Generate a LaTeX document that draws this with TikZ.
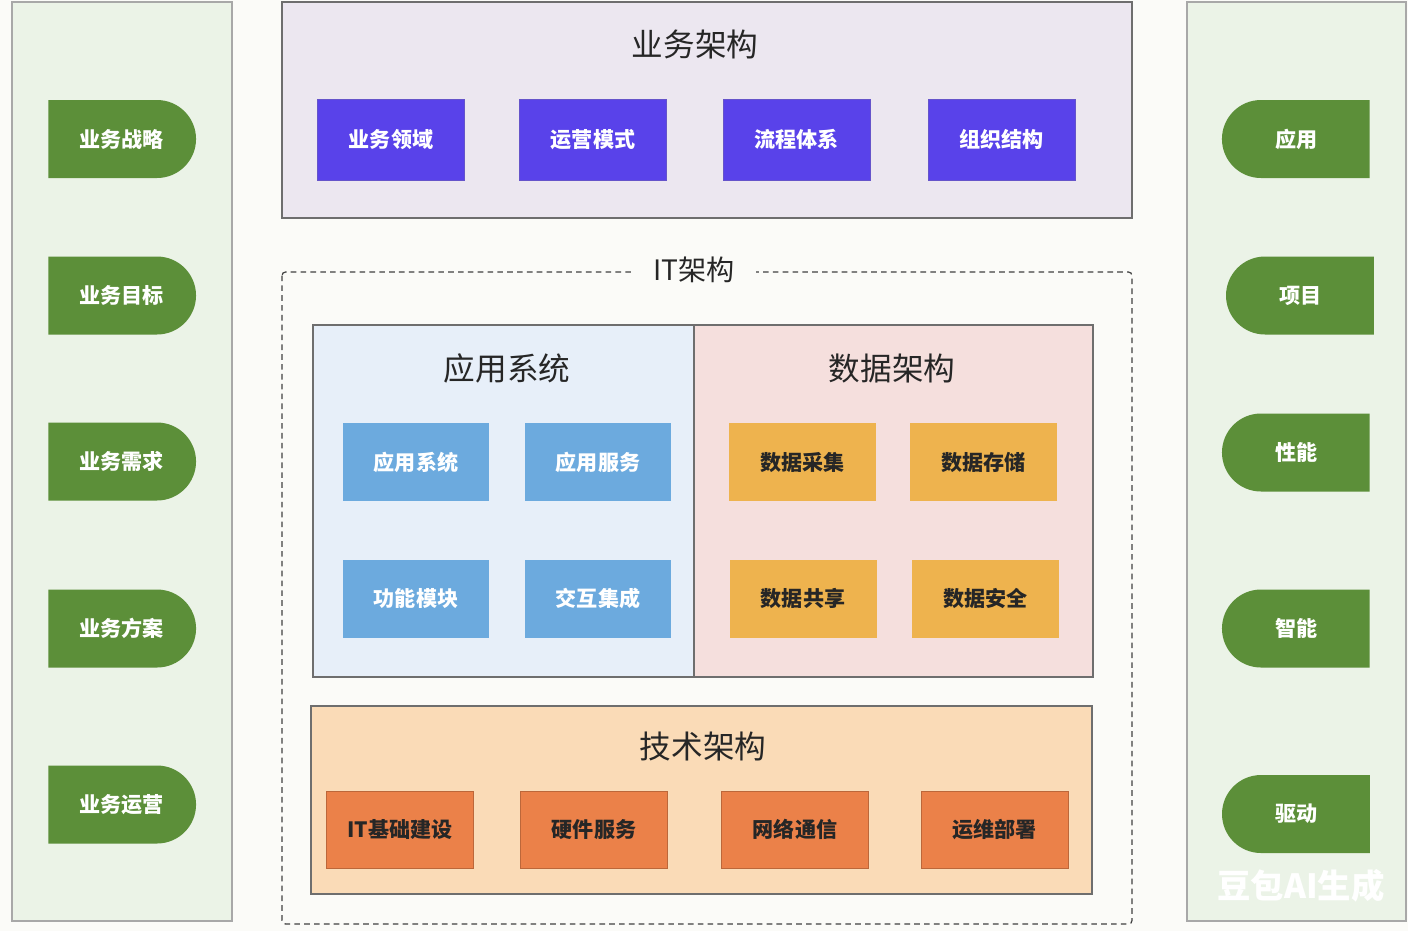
\documentclass[tikz,border=0pt]{standalone}
\usepackage{fontspec}
\setmainfont{Noto Sans CJK SC}
\definecolor{PageBg}{RGB}{251,251,248}
\definecolor{SideGreen}{RGB}{235,243,231}
\definecolor{LeafGreen}{RGB}{92,143,57}
\definecolor{BizLilac}{RGB}{236,231,240}
\definecolor{BizViolet}{RGB}{89,66,234}
\definecolor{AppSky}{RGB}{231,239,249}
\definecolor{AppBlue}{RGB}{108,170,222}
\definecolor{DataRose}{RGB}{245,223,221}
\definecolor{DataAmber}{RGB}{238,179,78}
\definecolor{TechPeach}{RGB}{250,219,183}
\definecolor{TechOrange}{RGB}{235,129,73}
\definecolor{EdgeGray}{RGB}{110,110,110}
\usetikzlibrary{positioning, shapes.misc, backgrounds, calc}

\tikzset{
  sidepanel/.style={draw=EdgeGray!60, fill=SideGreen, line width=0.6pt},
  leafL/.style={rounded rectangle, rounded rectangle west arc=none, fill=LeafGreen,
    text=white, font=\bfseries\fontsize{12}{14}\selectfont, minimum width=3.19cm, minimum height=1.56cm},
  leafR/.style={rounded rectangle, rounded rectangle east arc=none, fill=LeafGreen,
    text=white, font=\bfseries\fontsize{12}{14}\selectfont, minimum width=3.19cm, minimum height=1.56cm},
  panel/.style={draw=EdgeGray, line width=0.7pt},
  ptitle/.style={font=\fontsize{18}{20}\selectfont, text=black!85},
  cell/.style={minimum width=2.94cm, minimum height=1.56cm, inner sep=0pt,
    font=\bfseries\fontsize{12}{14}\selectfont},
  bizcell/.style={cell, fill=BizViolet, draw=BizViolet!70!gray, text=white, minimum height=1.62cm},
  appcell/.style={cell, fill=AppBlue, text=white},
  datacell/.style={cell, fill=DataAmber, text=black!85},
  techcell/.style={cell, fill=TechOrange, draw=TechOrange!80!black, text=black!85, minimum height=1.54cm}
}

\begin{document}
\begin{tikzpicture}[x=0.02cm, y=-0.02cm]
\fill[PageBg] (0,0) rectangle (1408,931);
\useasboundingbox (0,0) rectangle (1408,931);

% side columns
\draw[sidepanel] (12,2) rectangle (232,921);
\draw[sidepanel] (1187,2) rectangle (1406,921);
\node[leafL] (strategy) at (121.5,139) {业务战略};
\node[leafL] (goal) at (121.5,295.5) {业务目标};
\node[leafL] (demand) at (121.5,461.5) {业务需求};
\node[leafL] (plan) at (121.5,628.5) {业务方案};
\node[leafL] (operate) at (121.5,804.5) {业务运营};
\node[leafR] (apply) at (1296.5,139) {应用};
\node[leafR] (project) at (1300.5,295.5) {项目};
\node[leafR] (perform) at (1296.5,452.5) {性能};
\node[leafR] (smart) at (1296.5,628.5) {智能};
\node[leafR] (drive) at (1296.5,814) {驱动};

% business architecture
\draw[panel, fill=BizLilac] (282,2) rectangle (1132,218);
\node[ptitle] (biztitle) at (695,44) {业务架构};
\node[bizcell] (domain) at (391,139.5) {业务领域};
\node[bizcell] (opmode) at (593,139.5) {运营模式};
\node[bizcell] (process) at (796.5,139.5) {流程体系};
\node[bizcell] (org) at (1001.5,139.5) {组织结构};

% IT architecture
\draw[black!75, line width=0.7pt, dash pattern=on 3.2pt off 2.4pt, rounded corners=2pt] (282,272) rectangle (1132,924);
\node[ptitle, fill=PageBg, inner xsep=12pt, font=\fontsize{16}{18}\selectfont] (ittitle) at (694,270) {IT架构};

\draw[panel, fill=AppSky] (313,325) rectangle (694,677);
\draw[panel, fill=DataRose] (694,325) rectangle (1093,677);
\node[ptitle] (apptitle) at (507,368) {应用系统};
\node[appcell] (appsys) at (416,462) {应用系统};
\node[appcell] (appsvc) at (598,462) {应用服务};
\node[appcell] (funcmod) at (416,598.5) {功能模块};
\node[appcell] (interact) at (598,598.5) {交互集成};
\node[ptitle] (datatitle) at (892,368) {数据架构};
\node[datacell] (collect) at (802.5,462) {数据采集};
\node[datacell] (store) at (983.5,462) {数据存储};
\node[datacell] (share) at (803,598.5) {数据共享};
\node[datacell] (secure) at (985.5,598.5) {数据安全};

\draw[panel, fill=TechPeach] (311,706) rectangle (1092,894);
\node[ptitle] (techtitle) at (703,746) {技术架构};
\node[techcell] (infra) at (400,829.5) {IT基础建设};
\node[techcell] (hardware) at (594,829.5) {硬件服务};
\node[techcell] (network) at (795,829.5) {网络通信};
\node[techcell] (devops) at (994.5,829.5) {运维部署};

\node[text=white, font=\bfseries\fontsize{19}{21}\selectfont] (mark) at (1301,886) {豆包AI生成};
\end{tikzpicture}
\end{document}
